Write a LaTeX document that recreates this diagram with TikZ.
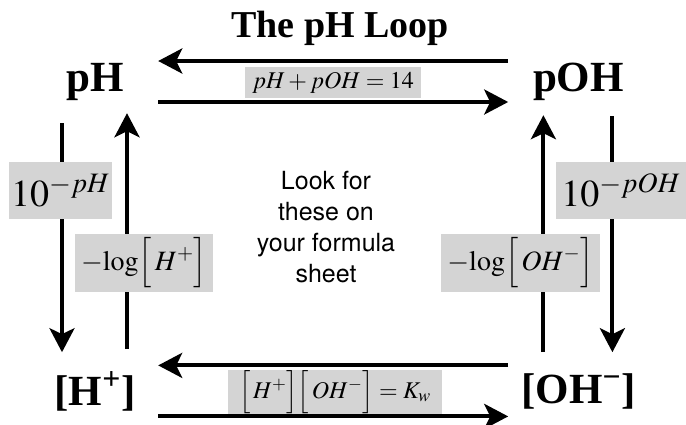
\documentclass[tikz,border=0pt]{standalone}
\usepackage{mathptmx}
\usepackage[no-math]{fontspec}
\setmainfont{Liberation Serif}
\newfontfamily\notefont{TeX Gyre Heros}
\usetikzlibrary{positioning,arrows.meta}

\begin{document}
\begin{tikzpicture}[
x=1pt, y=-1pt,
corner/.style={font=\fontsize{43}{43}\selectfont\bfseries, minimum width=126pt, minimum height=66pt, inner sep=0pt},
formula/.style={fill=black!17, inner sep=0pt, minimum width=#1},
arr/.style={-{Stealth[length=24pt,width=25pt,inset=6pt]}, line width=4pt}
]
\useasboundingbox (0,0) rectangle (686,424);

%-------------------------
% Nodes
%-------------------------

\node (title) at (340,28) {\fontsize{38}{38}\selectfont\bfseries The pH Loop};

\node[corner] (ph) at (95,82) {pH};
\node[corner, minimum width=140pt, right=350pt of ph] (poh) {pOH};
\node[corner, below=243pt of ph] (hplus) {[H\textsuperscript{+}]};
\node[corner, minimum width=140pt, below=243pt of poh] (ohminus) {[OH\textsuperscript{−}]};

\node (note) at (326,227) [align=center, font=\notefont\fontsize{25}{31}\selectfont]
{Look for\\these on\\your formula\\sheet};

%-------------------------
% Arrows
%-------------------------

\draw[arr] ([yshift=21pt]poh.west) -- ([yshift=21pt]ph.east);
\draw[arr] ([yshift=-20pt]ph.east) -- ([yshift=-20pt]poh.west);

\draw[arr] ([yshift=26pt]ohminus.west) -- ([yshift=26pt]hplus.east);
\draw[arr] ([yshift=-25pt]hplus.east) -- ([yshift=-25pt]ohminus.west);

\draw[arr] ([xshift=-33pt,yshift=-8pt]ph.south) -- ([xshift=-33pt,yshift=6pt]hplus.north);
\draw[arr] ([xshift=32pt,yshift=9pt]hplus.north) -- ([xshift=32pt,yshift=2pt]ph.south);

\draw[arr] ([xshift=-35pt,yshift=6pt]ohminus.north) -- ([xshift=-35pt,yshift=0pt]poh.south);
\draw[arr] ([xshift=34pt,yshift=-1pt]poh.south) -- ([xshift=34pt,yshift=6pt]ohminus.north);

%-------------------------
% Formulas
%-------------------------

\node[formula=176pt, minimum height=31pt] (sum) at (333,82.5)
{\fontsize{24}{24}\selectfont $pH+pOH=14$};

\node[formula=103pt, minimum height=57pt] (powh) at (60.5,190.5)
{\fontsize{38}{38}\selectfont $10^{-pH}$};
\node[formula=138pt, minimum height=58pt] (logh) at (144,263)
{\fontsize{28}{28}\selectfont $-\mathrm{log}\Bigl[\,H^{+}\Bigr]$};

\node[formula=130pt, minimum height=57pt] (powoh) at (621,190.5)
{\fontsize{38}{38}\selectfont $10^{-pOH}$};
\node[formula=159pt, minimum height=58pt] (logoh) at (520.5,263)
{\fontsize{28}{28}\selectfont $-\mathrm{log}\Bigl[\,OH^{-}\Bigr]$};

\node[formula=214pt, minimum height=40pt] (kw) at (335,392)
{\fontsize{24}{24}\selectfont $\Bigl[\,H^{+}\Bigr]\Bigl[\,OH^{-}\Bigr]=K_{w}$};

\end{tikzpicture}
\end{document}
